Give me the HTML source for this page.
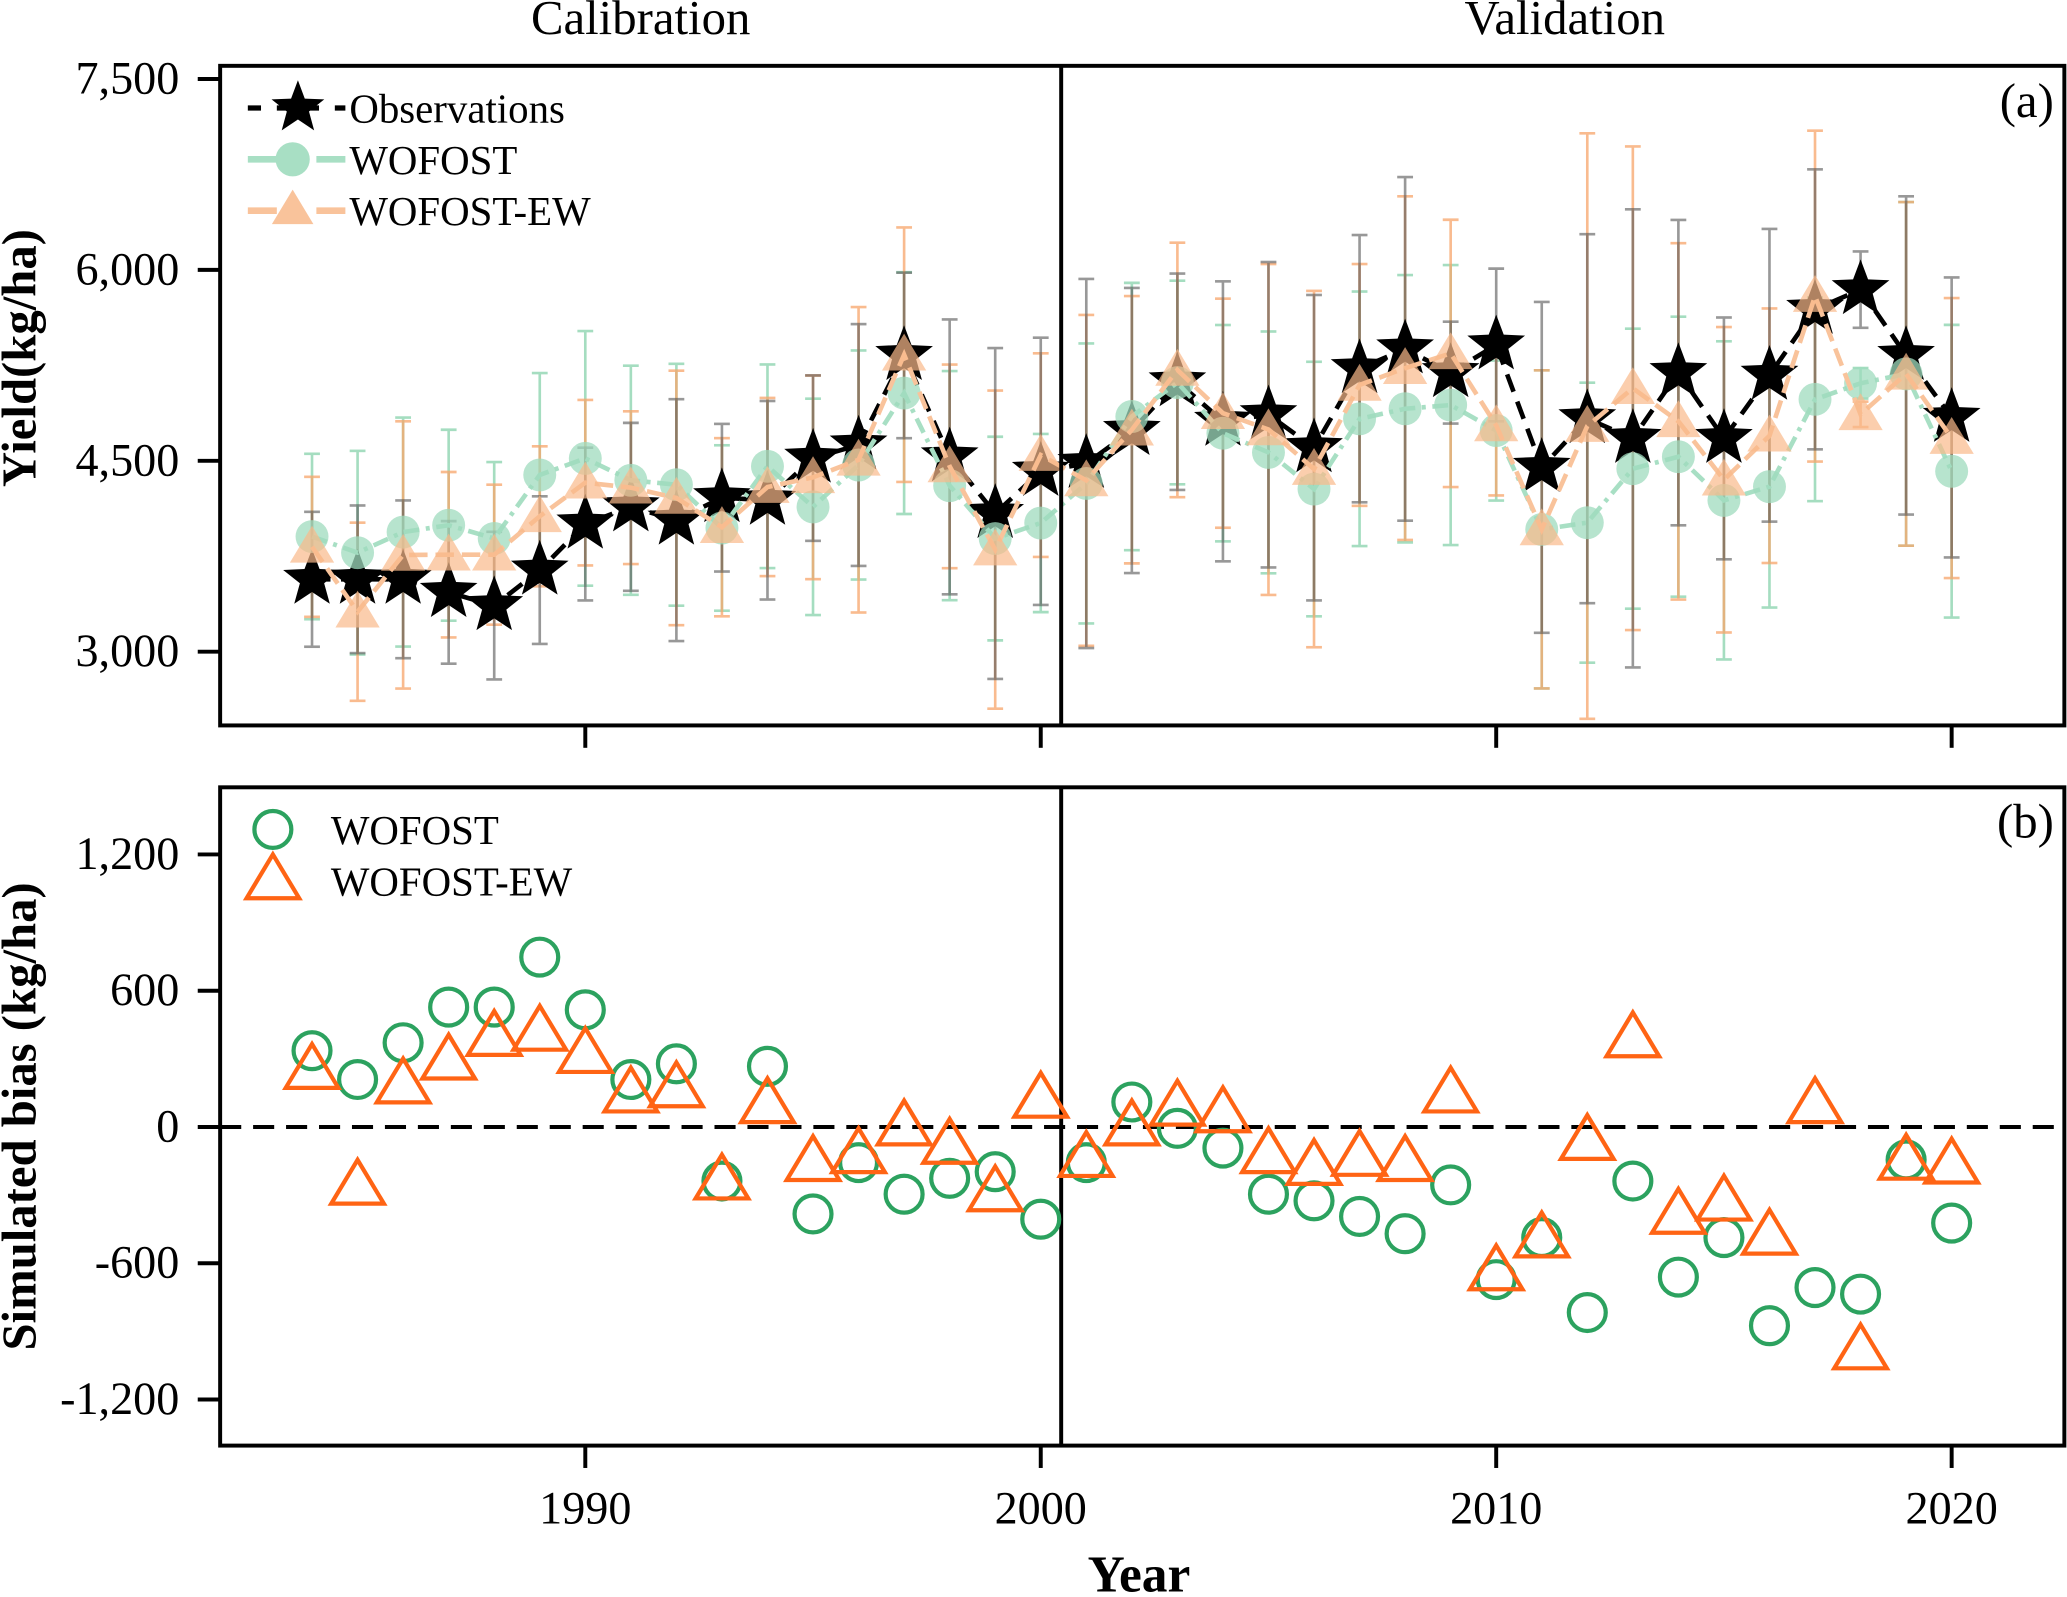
<!DOCTYPE html>
<html><head><meta charset="utf-8"><style>
html,body{margin:0;padding:0;background:#fff;}
svg{display:block;font-family:"Liberation Serif",serif;}
</style></head><body>
<svg id="chart" width="2067" height="1597" viewBox="0 0 1568 1213" preserveAspectRatio="none" xmlns="http://www.w3.org/2000/svg">
<g id="layerA"></g><g id="layerB"></g>
</svg>
<script>
const years=[1984,1985,1986,1987,1988,1989,1990,1991,1992,1993,1994,1995,1996,1997,1998,1999,2000,2001,2002,2003,2004,2005,2006,2007,2008,2009,2010,2011,2012,2013,2014,2015,2016,2017,2018,2019,2020];
const obs=[3569,3569,3569,3466,3362,3641,4003,4138,4034,4210,4190,4521,4624,5328,4531,4086,4417,4479,4738,5121,4810,4862,4603,5224,5379,5193,5410,4448,4831,4676,5193,4676,5172,5690,5845,5328,4841];
const obsErr=[530,580,620,560,580,580,600,660,950,580,780,650,950,650,1080,1300,1050,1450,1120,850,1100,1200,1200,1050,1350,400,600,1300,1450,1800,1200,950,1150,1100,300,1250,1100];
const biasW=[336,209,371,528,528,748,516,209,278,-238,267,-383,-157,-296,-226,-197,-406,-157,110,-6,-93,-296,-325,-394,-470,-255,-672,-487,-817,-238,-661,-487,-875,-707,-736,-145,-423];
const biasE=[255,-255,191,296,400,423,325,151,174,-232,104,-151,-116,6,-75,-284,128,-133,6,93,64,-116,-168,-128,-151,151,-632,-487,-58,394,-383,-325,-475,104,-980,-145,-162];
const wErr=[650,800,900,750,600,800,1000,900,950,650,800,850,900,950,900,800,700,1100,1050,800,850,950,1000,1000,1050,1100,550,1250,1100,1100,1100,1250,950,800,120,1350,1150];
const eErr=[550,700,1050,650,550,550,650,600,1000,700,700,800,1200,1000,800,1250,800,1300,1050,1000,900,1300,1400,950,1350,1050,550,1250,2300,1900,1400,1200,1000,1300,100,1350,1100];
const yTicksA=[3000,4500,6000,7500], yTicksB=[-1200,-600,0,600,1200], xTicks=[1990,2000,2010,2020];
const ns="http://www.w3.org/2000/svg";
const X=y=>444+(y-1990)*34.55;
const YA=v=>60+(7500-v)*145/1500;
const YB=v=>856-v*103.5/600;
function mk(p,t,a){const e=document.createElementNS(ns,t);for(const k in a)e.setAttribute(k,a[k]);p.appendChild(e);return e;}
function star(cx,cy,R){let p=[];for(let i=0;i<10;i++){const r=i%2?R*0.42:R;const a=-Math.PI/2+i*Math.PI/5;p.push((cx+r*Math.cos(a)).toFixed(1)+","+(cy+r*Math.sin(a)).toFixed(1));}return p.join(" ");}
function tri(cx,cy,s){return `${cx},${cy-s} ${cx-s*1.05},${cy+s*0.75} ${cx+s*1.05},${cy+s*0.75}`;}
const svg=document.getElementById('chart');
const A=document.getElementById('layerA'), B=document.getElementById('layerB');


const simW=obs.map((o,i)=>o+biasW[i]), simE=obs.map((o,i)=>o+biasE[i]);
const defs=mk(svg,'defs',{});const cp=mk(defs,'clipPath',{id:'ca'});mk(cp,'rect',{x:167,y:50,width:1399,height:501});
const gA=mk(A,'g',{'clip-path':'url(#ca)'});
function ebars(vals,errs,col,op,name,dx){years.forEach((y,i)=>{const x=X(y)+dx;const g=mk(gA,'g',{stroke:col,'stroke-width':2,opacity:op});


mk(g,'line',{x1:x,x2:x,y1:YA(vals[i]-errs[i]),y2:YA(vals[i]+errs[i])});
mk(g,'line',{x1:x-6,x2:x+6,y1:YA(vals[i]-errs[i]),y2:YA(vals[i]-errs[i])});
mk(g,'line',{x1:x-6,x2:x+6,y1:YA(vals[i]+errs[i]),y2:YA(vals[i]+errs[i])});});}
ebars(simW,wErr,'#7fcfa6',0.7,'wofost-error-bar',0);
ebars(simE,eErr,'#f7a56a',0.75,'wofost-ew-error-bar',0);
ebars(obs,obsErr,'#555',0.6,'observation-error-bar',0);
const line=(vals,col,dash,w,name)=>{const e=mk(gA,'polyline',{points:years.map((y,i)=>X(y)+","+YA(vals[i])).join(" "),fill:'none',stroke:col,'stroke-width':w,'stroke-dasharray':dash});

};
line(obs,'#000','14 8',3.5,'observations-line');
years.forEach((y,i)=>{const s=mk(gA,'polygon',{points:star(X(y),YA(obs[i]),23),fill:'#000'});

});
line(simW,'#a8dfc4','12 5 3 5',3.5,'wofost-line');
years.forEach((y,i)=>{const c=mk(gA,'circle',{cx:X(y),cy:YA(simW[i]),r:12.5,fill:'#9fdbbd',opacity:0.75});

});
line(simE,'#f9c39b','14 6',3.5,'wofost-ew-line');
years.forEach((y,i)=>{const t=mk(gA,'polygon',{points:tri(X(y),YA(simE[i]),16),fill:'#f9b98a',opacity:0.7});

});
function frame(p,y0,h,name){const r=mk(p,'rect',{x:167,y:y0,width:1399,height:h,fill:'none',stroke:'#000','stroke-width':3});


const d=mk(p,'line',{x1:805,x2:805,y1:y0,y2:y0+h,stroke:'#000','stroke-width':3});

}
frame(A,50,501,'panel-a-frame');
yTicksA.forEach(v=>{mk(A,'line',{x1:150,x2:167,y1:YA(v),y2:YA(v),stroke:'#000','stroke-width':3});
const t=mk(A,'text',{x:136,y:YA(v)+11,'text-anchor':'end','font-size':35});t.textContent=v.toLocaleString('en-US');

});
xTicks.forEach(v=>mk(A,'line',{x1:X(v),x2:X(v),y1:551,y2:568,stroke:'#000','stroke-width':3}));
const tA=mk(A,'text',{x:0,y:0,transform:'translate(27,272) rotate(-90)','text-anchor':'middle','font-size':37,'font-weight':'bold'});tA.textContent='Yield(kg/ha)';


[['Calibration',486],['Validation',1187]].forEach(([s,x])=>{const t=mk(A,'text',{x:x,y:26,'text-anchor':'middle','font-size':37});t.textContent=s;

});
const la=mk(A,'text',{x:1558,y:89,'text-anchor':'end','font-size':37});la.textContent='(a)';


const lg=mk(A,'g',{});
mk(lg,'line',{x1:188,x2:262,y1:82,y2:82,stroke:'#000','stroke-width':4,'stroke-dasharray':'10 12'});
mk(lg,'polygon',{points:star(226,82,21),fill:'#000'});
mk(lg,'line',{x1:188,x2:262,y1:121,y2:121,stroke:'#a8dfc4','stroke-width':5,'stroke-dasharray':'22 30'});
mk(lg,'circle',{cx:222,cy:121,r:13,fill:'#a8dfc4'});
mk(lg,'line',{x1:188,x2:262,y1:160,y2:160,stroke:'#f9c39b','stroke-width':5,'stroke-dasharray':'22 30'});
mk(lg,'polygon',{points:tri(222,159,15),fill:'#f9c39b'});
[['Observations',93],['WOFOST',132],['WOFOST-EW',171]].forEach(([s,y])=>{const t=mk(lg,'text',{x:265,y:y,'font-size':31});t.textContent=s;

});
frame(B,598,500,'panel-b-frame');
mk(B,'line',{x1:167,x2:1566,y1:YB(0),y2:YB(0),stroke:'#000','stroke-width':3,'stroke-dasharray':'16 9'});
yTicksB.forEach(v=>{mk(B,'line',{x1:150,x2:167,y1:YB(v),y2:YB(v),stroke:'#000','stroke-width':3});
const t=mk(B,'text',{x:136,y:YB(v)+11,'text-anchor':'end','font-size':35});t.textContent=v.toLocaleString('en-US');

});
xTicks.forEach(v=>{mk(B,'line',{x1:X(v),x2:X(v),y1:1098,y2:1115,stroke:'#000','stroke-width':3});
const t=mk(B,'text',{x:X(v),y:1157,'text-anchor':'middle','font-size':35});t.textContent=v;

});
years.forEach((y,i)=>{const c=mk(B,'circle',{cx:X(y),cy:YB(biasW[i]),r:14,fill:'none',stroke:'#2ca25f','stroke-width':3.2});

});
years.forEach((y,i)=>{const t=mk(B,'polygon',{points:tri(X(y),YB(biasE[i]),19),fill:'none',stroke:'#ff6414','stroke-width':3.2});

});
const lb=mk(B,'g',{});
mk(lb,'circle',{cx:207,cy:630,r:14,fill:'none',stroke:'#2ca25f','stroke-width':3.2});
mk(lb,'polygon',{points:tri(207,668,19),fill:'none',stroke:'#ff6414','stroke-width':3.2});
[['WOFOST',641],['WOFOST-EW',680]].forEach(([s,y])=>{const t=mk(lb,'text',{x:251,y:y,'font-size':31});t.textContent=s;

});
const lbb=mk(B,'text',{x:1558,y:636,'text-anchor':'end','font-size':37});lbb.textContent='(b)';


const tB=mk(B,'text',{x:0,y:0,transform:'translate(27,848) rotate(-90)','text-anchor':'middle','font-size':37,'font-weight':'bold'});tB.textContent='Simulated bias (kg/ha)';


const xt=mk(B,'text',{x:864,y:1209,'text-anchor':'middle','font-size':39,'font-weight':'bold'});xt.textContent='Year';


</script>
</body></html>
